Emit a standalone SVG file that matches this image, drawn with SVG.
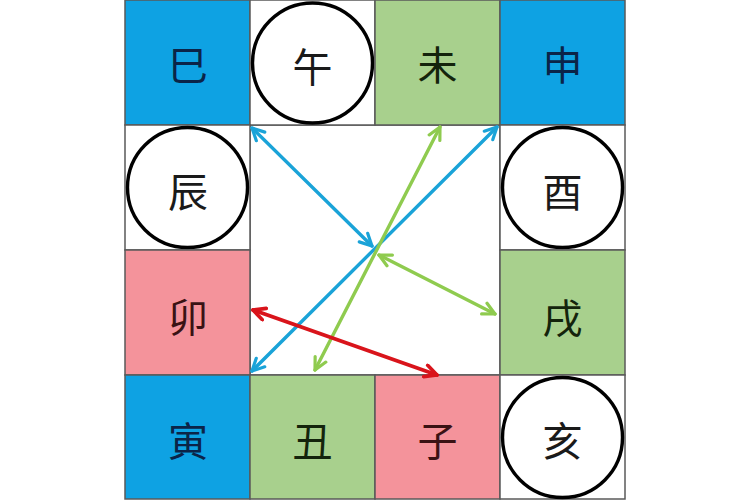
<svg xmlns="http://www.w3.org/2000/svg" width="750" height="500" viewBox="0 0 750 500">
<defs>
<style>
.cell{stroke:#5a5a5a;stroke-width:1.5}
.blue{fill:#0EA2E3}
.green{fill:#A8D08D}
.pink{fill:#F4939B}
.white{fill:#ffffff}
.ring{fill:#ffffff;stroke:#000;stroke-width:3.4}
.lbl{font-family:"Noto Sans CJK SC","Noto Sans CJK TC",sans-serif;font-size:40px;text-anchor:middle;dominant-baseline:central;fill:#1a1a1a}
.lbl.navy{fill:#0b2448}
.lbl.maroon{fill:#3a1214}
.lbl.dgreen{fill:#14240c}
.arr{fill:none;stroke-width:3.4;stroke-linecap:round}
.ab{stroke:#1AA3D8}
.ag{stroke:#8FCB4F}
.ar{stroke:#D9141B;stroke-width:3.8}
</style>
<marker id="mb" viewBox="0 0 16 16" refX="14" refY="8" markerWidth="16" markerHeight="16" markerUnits="userSpaceOnUse" orient="auto-start-reverse"><path d="M2,2 L14,8 L2,14" fill="none" stroke="#1AA3D8" stroke-width="3.2" stroke-linecap="round" stroke-linejoin="round"/></marker>
<marker id="mg" viewBox="0 0 16 16" refX="14" refY="8" markerWidth="16" markerHeight="16" markerUnits="userSpaceOnUse" orient="auto-start-reverse"><path d="M2,2 L14,8 L2,14" fill="none" stroke="#8FCB4F" stroke-width="3.2" stroke-linecap="round" stroke-linejoin="round"/></marker>
<marker id="mr" viewBox="0 0 16 16" refX="14" refY="8" markerWidth="16" markerHeight="16" markerUnits="userSpaceOnUse" orient="auto-start-reverse"><path d="M2,2 L14,8 L2,14" fill="none" stroke="#D9141B" stroke-width="3.6" stroke-linecap="round" stroke-linejoin="round"/></marker>
</defs>
<rect x="0" y="0" width="750" height="500" fill="#ffffff"/>
<rect x="250" y="125" width="250" height="250" fill="#ffffff" class="cell"/>
<g id="si"><rect class="cell blue" x="125" y="0" width="125" height="125"/><text class="lbl navy" x="188" y="63">巳</text></g>
<g id="wu"><rect class="cell white" x="250" y="0" width="125" height="125"/><circle class="ring" cx="312.5" cy="63" r="60"/><text class="lbl" x="312.5" y="65">午</text></g>
<g id="wei"><rect class="cell green" x="375" y="0" width="125" height="125"/><text class="lbl dgreen" x="437.5" y="63">未</text></g>
<g id="shen"><rect class="cell blue" x="500" y="0" width="125" height="125"/><text class="lbl navy" x="562.5" y="63">申</text></g>
<g id="chen"><rect class="cell white" x="125" y="125" width="125" height="125"/><circle class="ring" cx="187.5" cy="187.5" r="60"/><text class="lbl" x="188" y="190">辰</text></g>
<g id="you"><rect class="cell white" x="500" y="125" width="125" height="125"/><circle class="ring" cx="562.5" cy="187.5" r="60"/><text class="lbl" x="562.5" y="190">酉</text></g>
<g id="mao"><rect class="cell pink" x="125" y="250" width="125" height="125"/><text class="lbl maroon" x="188" y="315">卯</text></g>
<g id="xu"><rect class="cell green" x="500" y="250" width="125" height="125"/><text class="lbl dgreen" x="562.5" y="316">戌</text></g>
<g id="yin"><rect class="cell blue" x="125" y="375" width="125" height="124"/><text class="lbl navy" x="188" y="439">寅</text></g>
<g id="chou"><rect class="cell green" x="250" y="375" width="125" height="124"/><text class="lbl dgreen" x="312.5" y="439">丑</text></g>
<g id="zi"><rect class="cell pink" x="375" y="375" width="125" height="124"/><text class="lbl maroon" x="437.5" y="439">子</text></g>
<g id="hai"><rect class="cell white" x="500" y="375" width="125" height="124"/><circle class="ring" cx="562.5" cy="437.5" r="60"/><text class="lbl" x="562.5" y="439">亥</text></g>
<g id="connectors">
<line class="arr ab" x1="252" y1="128" x2="372" y2="246" marker-start="url(#mb)" marker-end="url(#mb)"/>
<line class="arr ab" x1="497" y1="127" x2="252" y2="371" marker-start="url(#mb)" marker-end="url(#mb)"/>
<line class="arr ag" x1="440" y1="127" x2="315" y2="370" marker-start="url(#mg)" marker-end="url(#mg)"/>
<line class="arr ag" x1="379" y1="255" x2="495" y2="314" marker-start="url(#mg)" marker-end="url(#mg)"/>
<line class="arr ar" x1="253" y1="310" x2="437" y2="375" marker-start="url(#mr)" marker-end="url(#mr)"/>
</g>
</svg>
